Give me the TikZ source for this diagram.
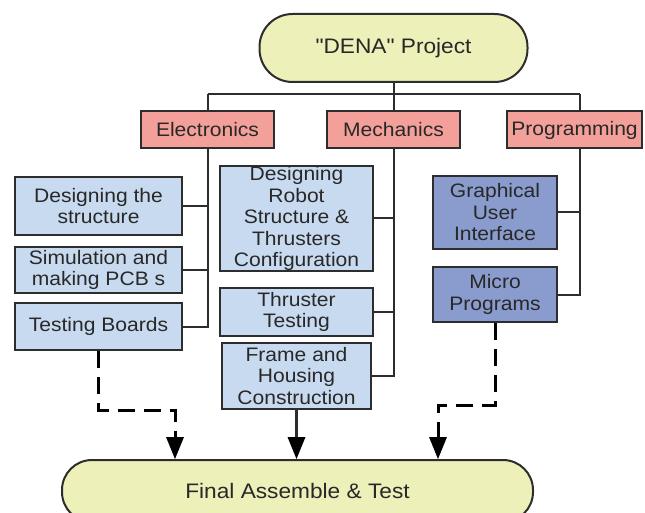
\documentclass[tikz,border=0pt]{standalone}
\usepackage{fontspec}
\setmainfont[FakeStretch=1.08]{Liberation Sans}
\newfontfamily\qfont[FakeStretch=1.08,Ligatures=TeXOff]{Liberation Sans}
\usetikzlibrary{arrows.meta}
\pgfdeclarelayer{bg}
\pgfsetlayers{bg,main}
\definecolor{pillfill}{RGB}{238,240,186}
\definecolor{catfill}{RGB}{243,160,154}
\definecolor{lightbox}{RGB}{200,218,240}
\definecolor{darkbox}{RGB}{137,156,205}
\definecolor{edge}{RGB}{45,45,45}
\definecolor{txt}{RGB}{40,40,40}
\tikzset{
  base/.style={draw=edge, line width=2pt, inner sep=0pt, align=center, text=txt,
    font=\fontsize{19.5}{21.5}\selectfont},
  pill/.style={base, fill=pillfill, font=\fontsize{21}{23}\selectfont},
  cat/.style={base, fill=catfill},
  lbox/.style={base, fill=lightbox},
  dbox/.style={base, fill=darkbox},
  link/.style={draw=edge, line width=2pt},
  dlink/.style={draw=black, line width=3pt, dash pattern=on 17pt off 9pt},
  headtip/.style={fill=black},
}
\begin{document}
\begin{tikzpicture}[x=1pt,y=-1pt]
\useasboundingbox (0,0) rectangle (645,513);
\clip (0,0) rectangle (645,513);
\node[pill, minimum width=268pt, minimum height=68pt, rounded corners=33pt] (top) at (393.5,48) {\qfont "DENA" Project};
\node[cat, minimum width=133pt, minimum height=37pt] (elec) at (207.5,130) {Electronics};
\node[cat, minimum width=133pt, minimum height=37pt] (mech) at (393.5,130) {Mechanics};
\node[cat, minimum width=135pt, minimum height=37pt] (prog) at (574.5,130) {Programming};
\node[lbox, minimum width=167pt, minimum height=58pt] (design) at (98.5,206) {Designing the\\structure};
\node[lbox, minimum width=167pt, minimum height=46pt] (sim) at (98.5,270) {Simulation and\\making PCB s};
\node[lbox, minimum width=167pt, minimum height=47pt] (test) at (98.5,326.5) {Testing Boards};
\node[lbox, minimum width=153pt, minimum height=103pt] (robot) at (296.5,218.5) {Designing\\Robot\\Structure \&\\Thrusters\\Configuration};
\node[lbox, minimum width=153pt, minimum height=48pt] (thr) at (296.5,312) {Thruster\\Testing};
\node[lbox, minimum width=149pt, minimum height=66pt] (frame) at (296.5,376) {Frame and\\Housing\\Construction};
\node[dbox, minimum width=124pt, minimum height=73pt] (gui) at (495,212.5) {Graphical\\User\\Interface};
\node[dbox, minimum width=124pt, minimum height=55pt] (micro) at (495,294.5) {Micro\\Programs};
\node[pill, minimum width=471pt, minimum height=62pt, rounded corners=30pt] (final) at (297.5,491) {Final Assemble \& Test};
\coordinate (busL) at (207.5,94);
\coordinate (busR) at (580,94);
\coordinate (e1) at (175,410);
\coordinate (p1) at (438,405);
\coordinate (eh) at (175,437);
\coordinate (ph) at (438,437);
\coordinate (fh) at (296.5,437);
\begin{pgfonlayer}{bg}
\draw[link] (top.south) -- (mech.north);
\draw[link] (busL) -- (busR);
\draw[link] (busL) -- (elec.north);
\draw[link] (busR) |- (micro.east);
\draw[link] (gui.east) -- (gui.east -| busR);
\draw[link] (elec.south) |- (test.east);
\draw[link] (design.east) -- (design.east -| elec.south);
\draw[link] (sim.east) -- (sim.east -| elec.south);
\draw[link] (mech.south) |- (frame.east);
\draw[link] (robot.east) -- (robot.east -| mech.south);
\draw[link] (thr.east) -- (thr.east -| mech.south);
\end{pgfonlayer}
\draw[dlink] (test.south) |- (e1) -- (eh);
\draw[dlink] (micro.south) |- (p1) -- (ph);
\draw[link, line width=2.5pt] (frame.south) -- (fh);
\fill[headtip] (e1 |- final.north) -- ([xshift=-9pt]eh) -- ([xshift=9pt]eh) -- cycle;
\fill[headtip] (p1 |- final.north) -- ([xshift=-9pt]ph) -- ([xshift=9pt]ph) -- cycle;
\fill[headtip] (fh |- final.north) -- ([xshift=-9pt]fh) -- ([xshift=9pt]fh) -- cycle;
\end{tikzpicture}
\end{document}
